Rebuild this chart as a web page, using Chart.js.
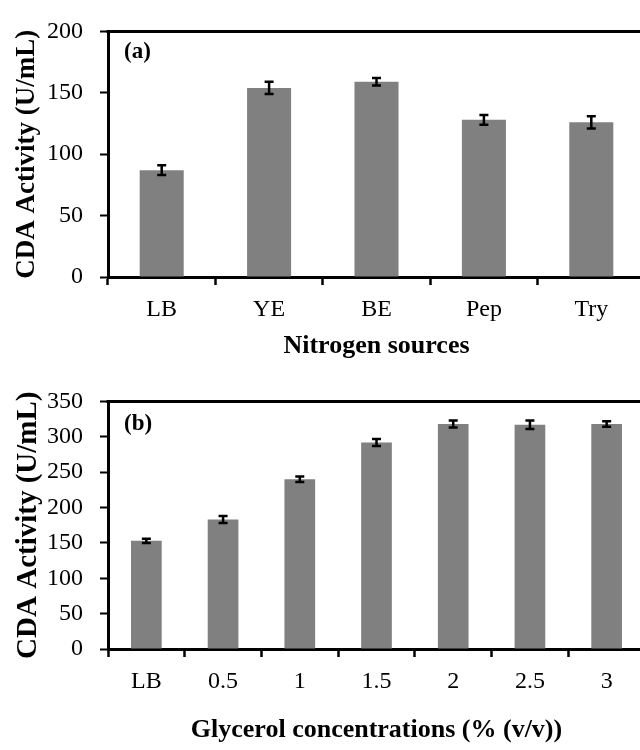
<!DOCTYPE html>
<html><head><meta charset="utf-8">
<script src="https://cdn.jsdelivr.net/npm/chart.js@4.4.1/dist/chart.umd.min.js"></script>
<style>
html,body{margin:0;padding:0;overflow:hidden;background:#fff;}
#wrap{position:relative;width:640px;height:750px;overflow:hidden;background:#fff;}
canvas{position:absolute;left:0;}
</style></head><body>
<div id="wrap">
<canvas id="ca" width="650" height="370" style="top:0px"></canvas>
<canvas id="cb" width="650" height="380" style="top:370px"></canvas>
</div>
<script>
// ---- data ----
const nitrogenSources = ['LB', 'YE', 'BE', 'Pep', 'Try'];
const nitrogenActivity = [87, 154, 159, 128, 126];
const nitrogenError = [4, 5, 3, 4, 5];
const nitrogenYMax = 200;

const glycerolConc = ['LB', '0.5', '1', '1.5', '2', '2.5', '3'];
const glycerolActivity = [153, 183, 240, 292, 318, 317, 318];
const glycerolError = [3, 5, 4, 5, 5, 6, 4];
const glycerolYMax = 350;

const yStep = 50;
const yTitle = 'CDA Activity (U/mL)';
const xTitleA = 'Nitrogen sources';
const xTitleB = 'Glycerol concentrations (% (v/v))';

const SERIF = '"Liberation Serif", "Times New Roman", Times, serif';

const errorBarPlugin = {
  id: 'errorBars',
  afterDatasetsDraw(chart, args, opts) {
    const ctx = chart.ctx;
    const yScale = chart.scales.y;
    const meta = chart.getDatasetMeta(0);
    const vals = chart.data.datasets[0].data;
    const errs = opts.errors;
    ctx.save();
    ctx.strokeStyle = '#000';
    ctx.lineWidth = 2.5;
    meta.data.forEach((el, i) => {
      const x = el.x;
      const yt = yScale.getPixelForValue(vals[i] + errs[i]);
      const yb = yScale.getPixelForValue(vals[i] - errs[i]);
      ctx.beginPath();
      ctx.moveTo(x, yt); ctx.lineTo(x, yb);
      ctx.moveTo(x - 4.5, yt); ctx.lineTo(x + 4.5, yt);
      ctx.moveTo(x - 4.5, yb); ctx.lineTo(x + 4.5, yb);
      ctx.stroke();
    });
    ctx.restore();
  }
};

const framePlugin = {
  id: 'frame',
  afterDraw(chart, args, opts) {
    const ctx = chart.ctx;
    const a = chart.chartArea;
    ctx.save();
    ctx.strokeStyle = '#000';
    ctx.lineWidth = 3;
    ctx.beginPath();
    ctx.moveTo(a.left - 1.5, Math.round(a.top) + 0.5);
    ctx.lineTo(a.right + 10, Math.round(a.top) + 0.5);
    ctx.stroke();
    ctx.fillStyle = '#000';
    ctx.font = 'bold 23px ' + SERIF;
    ctx.textBaseline = 'middle';
    ctx.textAlign = 'left';
    ctx.fillText(opts.label, a.left + 16, a.top + opts.labelDy);
    ctx.restore();
  }
};

function makeChart(id, labels, values, errors, yMax, xTitle, panel, cfg) {
  return new Chart(document.getElementById(id), {
    type: 'bar',
    data: {
      labels: labels,
      datasets: [{
        data: values,
        backgroundColor: '#808080',
        borderWidth: 0,
        barPercentage: cfg.barPct,
        categoryPercentage: 1.0
      }]
    },
    options: {
      responsive: false,
      animation: false,
      devicePixelRatio: 1,
      layout: { padding: { left: 0, top: cfg.padTop, right: 5, bottom: 0 } },
      plugins: {
        legend: { display: false },
        tooltip: { enabled: false },
        errorBars: { errors: errors },
        frame: { label: panel, labelDy: cfg.labelDy }
      },
      scales: {
        x: {
          grid: { display: true, drawOnChartArea: false, drawTicks: true, tickLength: 8, tickWidth: 2.5, tickColor: '#000', offset: true },
          border: { display: true, color: '#000', width: 3 },
          ticks: { color: '#000', font: { family: SERIF, size: 24 }, padding: 10, maxRotation: 0, autoSkip: false },
          title: { display: true, text: xTitle, color: '#000', font: { family: SERIF, size: 26, weight: 'bold' }, padding: { top: 0, bottom: cfg.titlePadBottom } },
          afterFit(scale) { scale.height = cfg.xHeight; }
        },
        y: {
          min: 0, max: yMax,
          ticks: { stepSize: yStep, color: '#000', font: { family: SERIF, size: 24 }, padding: 17 },
          grid: { display: true, drawOnChartArea: false, drawTicks: true, tickLength: 8, tickWidth: 2, tickColor: '#000' },
          border: { display: true, color: '#000', width: 3 },
          title: { display: true, text: yTitle, color: '#000', font: { family: SERIF, size: cfg.yTitleSize, weight: 'bold' }, padding: { top: 11, bottom: 0 } },
          afterFit(scale) { scale.width = 108; }
        }
      }
    },
    plugins: [errorBarPlugin, framePlugin]
  });
}

makeChart('ca', nitrogenSources, nitrogenActivity, nitrogenError, nitrogenYMax, xTitleA, '(a)',
  { barPct: 0.41, padTop: 26, xHeight: 93, titlePadBottom: 8, yTitleSize: 27, labelDy: 21 });
makeChart('cb', glycerolConc, glycerolActivity, glycerolError, glycerolYMax, xTitleB, '(b)',
  { barPct: 0.40, padTop: 16, xHeight: 101, titlePadBottom: 4, yTitleSize: 29, labelDy: 23 });
</script>
</body></html>
